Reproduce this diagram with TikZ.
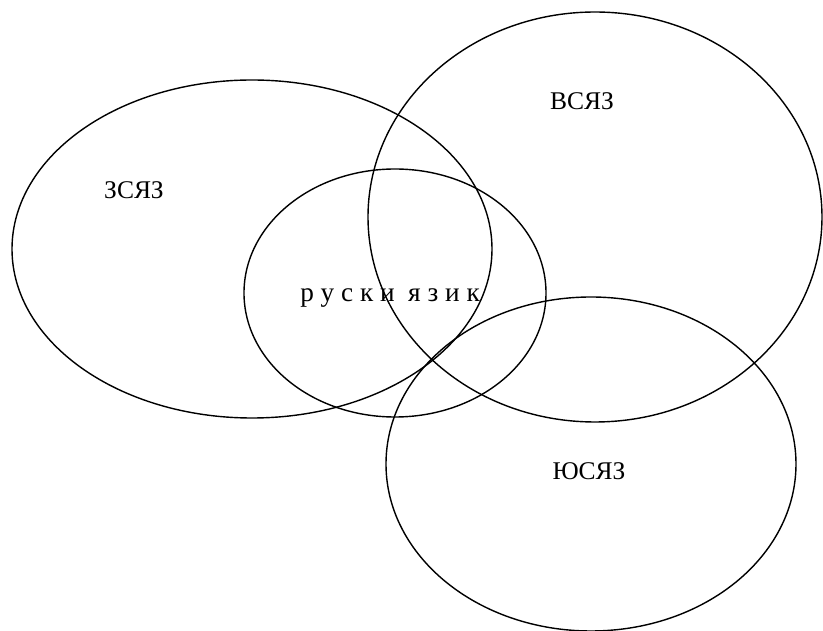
\documentclass[tikz,border=0pt]{standalone}
\usepackage{fontspec}
\setmainfont{Liberation Serif}
\usepackage{tikz}

\begin{document}
\begin{tikzpicture}[x=0.02cm,y=-0.02cm,thick,
lbl/.style={inner sep=0pt, font=\fontsize{14.5}{17}\selectfont}]
    \useasboundingbox (0,0) rectangle (823,631);
    \clip (0,0) rectangle (823,631);
    \draw (252,249) ellipse (240 and 169) ;
    \draw (595,217) ellipse (227 and 205) ;
    \draw (395,293) ellipse (151 and 124) ;
    \draw (591,464) ellipse (205 and 167) ;
    \node[lbl] (vsyaz) at (582,101) {ВСЯЗ};
    \node[lbl] (zsyaz) at (134,190) {ЗСЯЗ};
    \node[lbl, font=\fontsize{15.5}{18}\selectfont] (rusk) at (390,298)
        {р у с к и\ \ я з и к};
    \node[lbl] (yusyaz) at (589,471) {ЮСЯЗ};
\end{tikzpicture}
\end{document}
